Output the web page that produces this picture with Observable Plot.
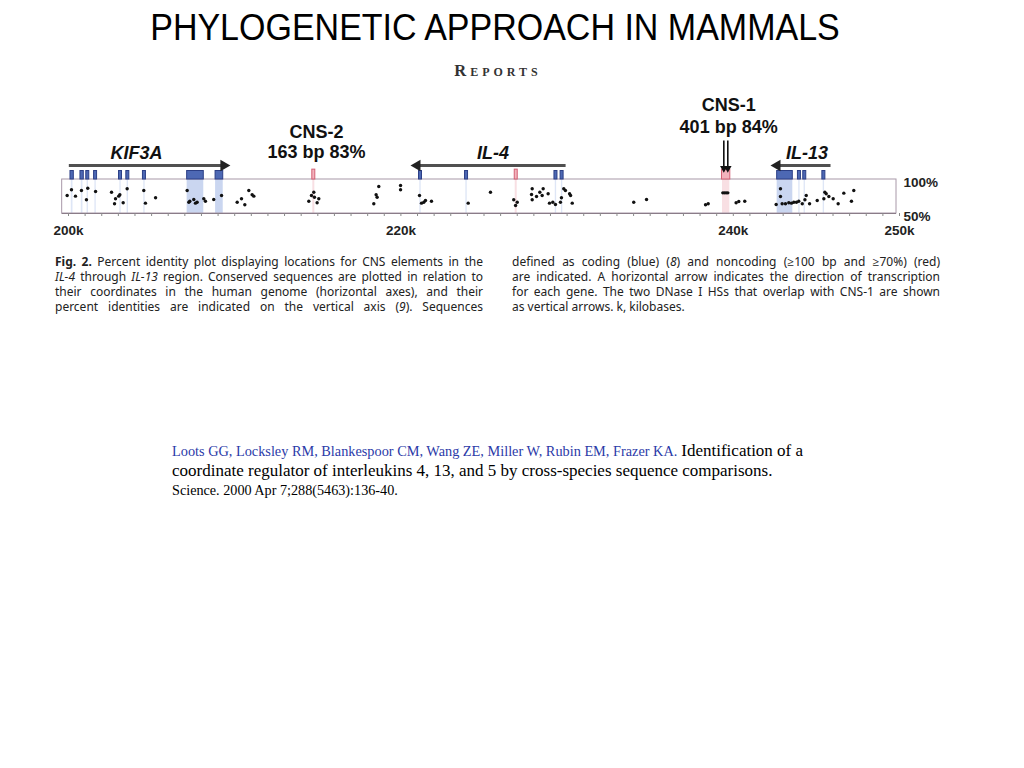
<!DOCTYPE html>
<html>
<head>
<meta charset="utf-8">
<script src="https://cdn.jsdelivr.net/npm/d3@7"></script>
<script src="https://cdn.jsdelivr.net/npm/@observablehq/plot@0.6"></script>
<style>
  html, body { margin: 0; padding: 0; background: #fff; }
  #page { position: relative; width: 1024px; height: 768px; overflow: hidden; background: #fff; }
  .abs { position: absolute; white-space: nowrap; }
  #title { left: 0; width: 990px; top: 8px; text-align: center; font-family: "Liberation Sans", Arial, sans-serif; font-size: 34px; line-height: 40px; color: #000; transform: scaleY(1.06); transform-origin: 50% 80%; }
  #reports { left: 398px; width: 200px; top: 62px; text-align: center; font-family: "Liberation Serif", serif; font-weight: bold; font-variant: small-caps; font-size: 16.5px; letter-spacing: 4px; line-height: 18px; color: #333; }
  #chart { position: absolute; left: 40px; top: 55px; }
  .cap { position: absolute; width: 428px; font-family: "Noto Sans", "Open Sans", sans-serif; font-size: 12px; line-height: 15px; color: #222; }
  .cap div { text-align: justify; text-align-last: justify; white-space: nowrap; }
  .cap div.last { text-align-last: left; }
  #citation { position: absolute; left: 172px; top: 441px; font-family: "Liberation Serif", "Times New Roman", serif; color: #000; }
  #citation .l1 { height: 20px; line-height: 20px; white-space: nowrap; }
  #citation .auth { color: #2b3aa8; font-size: 14.3px; }
  #citation .big { font-size: 17px; }
  #citation .l3 { font-size: 14.2px; line-height: 18px; }
</style>
</head>
<body>
<div id="page">
  <div id="title" class="abs">PHYLOGENETIC APPROACH IN MAMMALS</div>
  <div id="reports" class="abs">Reports</div>
  <div id="chart"></div>
  <div class="cap" style="left:55px; top:254px;">
    <div><b>Fig. 2.</b> Percent identity plot displaying locations for CNS elements in the</div>
    <div><i>IL-4</i> through <i>IL-13</i> region. Conserved sequences are plotted in relation to</div>
    <div>their coordinates in the human genome (horizontal axes), and their</div>
    <div>percent identities are indicated on the vertical axis (<i>9</i>). Sequences</div>
  </div>
  <div class="cap" style="left:512px; top:254px;">
    <div>defined as coding (blue) (<i>8</i>) and noncoding (≥100 bp and ≥70%) (red)</div>
    <div>are indicated. A horizontal arrow indicates the direction of transcription</div>
    <div>for each gene. The two DNase I HSs that overlap with CNS-1 are shown</div>
    <div class="last">as vertical arrows. k, kilobases.</div>
  </div>
  <div id="citation">
    <div class="l1"><span class="auth">Loots GG, Locksley RM, Blankespoor CM, Wang ZE, Miller W, Rubin EM, Frazer KA.</span> <span class="big">Identification of a</span></div>
    <div class="l1 big">coordinate regulator of interleukins 4, 13, and 5 by cross-species sequence comparisons.</div>
    <div class="l3">Science. 2000 Apr 7;288(5463):136-40.</div>
  </div>
</div>
<script>
// ---- Data (kb coordinates in the human genome, percent identity) ----
const xTicksLabeled = [200, 220, 240, 250];
const yTicks = [50, 100];

// coding exons (blue): [start kb, end kb]
const codingExons = [
  [200.30, 200.50], [200.90, 201.10], [201.25, 201.43], [201.72, 201.90],
  [203.22, 203.40], [203.66, 203.84], [204.66, 204.84], [207.32, 208.32], [209.03, 209.49],
  [221.27, 221.45], [224.04, 224.22], [229.42, 229.60], [229.79, 229.97],
  [242.82, 243.76], [244.07, 244.25], [244.39, 244.57], [245.54, 245.72]
];
// noncoding conserved sequences (red): [start kb, end kb]
const noncodingCNS = [
  [214.85, 215.03], [227.03, 227.21], [239.50, 240.00]
];
// genes with transcription direction: from -> to (kb)
const genes = ["KIF3A", "IL-4", "IL-13"];
const geneFrom = [200.2, 230.09, 246.03];
const geneTo = [209.52, 221.16, 242.82];
const geneLabelKb = [204.27, 225.72, 244.62];
// CNS annotations
const cnsNames = ["CNS-2", "CNS-1"];
const cnsDetail = ["163 bp 83%", "401 bp 84%"];
const cnsLabelKb = [215.1, 239.9];
const cnsLevel = [[169, 139.7], [208.8, 176.5]]; // text rows above the 100% line (same percent scale)
// DNase I hypersensitive sites overlapping CNS-1
const hsKb = [239.61, 239.85];

// percent identity points: [kb, %]
const pipPoints = [
  [200.10, 76.5], [200.36, 84.9], [200.60, 75.5], [200.96, 83.8], [201.26, 70.2], [201.34, 87.2],
  [201.81, 82.4], [202.77, 81.3], [202.95, 64.3], [203.01, 71.6], [203.27, 77.5], [203.20, 75.5],
  [203.47, 65.7], [203.71, 86.3], [204.71, 83.8], [204.81, 65.2], [205.42, 73.1],
  [207.32, 83.8], [207.42, 66.6], [207.48, 68.1], [207.72, 70.6], [207.82, 65.2], [207.92, 66.6],
  [208.32, 71.6], [208.42, 68.1], [208.92, 70.6], [209.39, 76.5],
  [210.33, 66.6], [210.59, 71.6], [210.79, 62.8], [211.03, 83.8], [211.23, 77.5], [211.33, 75.5],
  [214.64, 68.1], [214.80, 76.5], [214.94, 81.3], [214.98, 74.0], [215.14, 65.7], [215.24, 71.6],
  [218.55, 64.3], [218.69, 77.5], [218.75, 74.0], [218.85, 89.7], [220.16, 91.2], [220.16, 84.9],
  [221.30, 76.5], [221.42, 65.2], [221.56, 66.6], [221.66, 69.1], [222.02, 68.1],
  [224.23, 65.2], [225.57, 81.3], [226.97, 70.2], [227.08, 61.8], [227.18, 66.6],
  [228.04, 78.0], [228.08, 86.3], [228.08, 70.2], [228.34, 75.0], [228.54, 81.3], [228.68, 76.5],
  [228.74, 86.3], [229.04, 79.0], [229.12, 65.2], [229.32, 66.6], [229.48, 63.3], [229.78, 66.6],
  [229.84, 73.1], [229.98, 86.3], [230.08, 83.8], [230.33, 79.0], [230.39, 76.5], [230.49, 65.2],
  [234.19, 66.6], [234.96, 70.6], [238.51, 62.8], [238.67, 64.3],
  [239.55, 80.4], [239.65, 80.4], [239.75, 80.4], [239.85, 80.4],
  [240.35, 65.7], [240.51, 67.7], [240.87, 68.1],
  [242.76, 63.3], [243.02, 86.3], [243.02, 75.0], [243.12, 64.3], [243.32, 64.3], [243.52, 65.7],
  [243.68, 65.2], [243.82, 66.6], [243.98, 66.6], [244.12, 68.1], [244.33, 64.3], [244.49, 70.2],
  [244.57, 76.5], [244.77, 64.3], [245.23, 69.1], [245.63, 71.6], [245.69, 81.3], [245.77, 79.0],
  [245.93, 75.0], [246.19, 71.6], [246.49, 64.3], [246.83, 79.9], [247.29, 68.1], [247.43, 83.8]
];

// track levels above the plot (expressed on the same percent scale)
const exonTrack = [100, 112.5];
const arrowLevel = 120.6;
const geneLabelLevel = 138.5;
const hsTop = 157.5, hsBottom = 113.5;

const geneRows = genes.map((g, i) => ({gene: g, from: geneFrom[i], to: geneTo[i], label: geneLabelKb[i]}));
const cnsRows = cnsNames.map((n, i) => ({name: n, detail: cnsDetail[i], kb: cnsLabelKb[i], y1: cnsLevel[i][0], y2: cnsLevel[i][1]}));
const narrowExons = codingExons.filter(d => d[1] - d[0] < 0.4);
const wideExons = codingExons.filter(d => d[1] - d[0] >= 0.4);

const fig = Plot.plot({
  width: 920,
  height: 190,
  marginLeft: 25,
  marginRight: 64,
  marginTop: 124,
  marginBottom: 32,
  style: {fontFamily: "'Liberation Sans', Arial, sans-serif", fontWeight: "bold", background: "transparent", overflow: "visible", color: "#222"},
  x: {domain: [200, 250]},
  y: {domain: [50, 100]},
  marks: [
    // shaded columns below coding exons and noncoding CNS
    Plot.rect(wideExons, {x1: d => d[0], x2: d => d[1], y1: 50, y2: 100, fill: "#c4d2ee", fillOpacity: 0.9}),
    Plot.rect(narrowExons, {x1: d => d[0] + 0.05, x2: d => d[1] - 0.05, y1: 50, y2: 100, fill: "#d6e0f4", fillOpacity: 0.8}),
    Plot.rect(noncodingCNS, {x1: d => d[0] + 0.03, x2: d => d[1] - 0.03, y1: 50, y2: 100, fill: "#f7dbe0", fillOpacity: 0.9}),
    // frame of the percent identity plot
    Plot.rect([0], {x1: 199.8, x2: 250, y1: 50, y2: 100, fill: "none", stroke: "#a898a8", strokeWidth: 1}),
    Plot.ruleY([50], {x1: 199.8, x2: 250, stroke: "#8a7c88", strokeWidth: 1}),
    // exon markers
    Plot.rect(codingExons, {x1: d => d[0], x2: d => d[1], y1: exonTrack[0], y2: exonTrack[1], fill: "#4d68b4", stroke: "#2c3f86", strokeWidth: 1}),
    Plot.rect(noncodingCNS, {x1: d => d[0], x2: d => d[1], y1: exonTrack[0], y2: exonTrack[1] + 2, fill: "#f2b3bd", stroke: "#d36075", strokeWidth: 1}),
    // transcription direction arrows
    Plot.link(geneRows, {x1: "from", x2: "to", y1: arrowLevel, y2: arrowLevel, stroke: "#505050", strokeWidth: 3}),
    Plot.dot(geneRows, {x: "to", y: arrowLevel, symbol: "triangle2", r: 5.5, fill: "#222", rotate: d => d.to > d.from ? 90 : -90}),
    Plot.text(geneRows, {x: "label", y: geneLabelLevel, text: "gene", fontSize: 18, fontStyle: "italic", fontWeight: "bold", fill: "#111"}),
    // CNS labels
    Plot.text(cnsRows, {x: "kb", y: "y1", text: "name", fontSize: 18, fontWeight: "bold", fill: "#111"}),
    Plot.text(cnsRows, {x: "kb", y: "y2", text: "detail", fontSize: 18, fontWeight: "bold", fill: "#111"}),
    // DNase I HS vertical arrows
    Plot.link(hsKb, {x1: d => d, x2: d => d, y1: hsTop, y2: hsBottom + 6, stroke: "#111", strokeWidth: 1.6}),
    Plot.dot(hsKb, {x: d => d, y: hsBottom + 3, symbol: "triangle2", r: 3.6, fill: "#111", rotate: 180}),
    // percent identity points
    Plot.dot(pipPoints, {x: d => d[0], y: d => d[1], r: 1.7, fill: "#111", stroke: "none"}),
    // axes
    Plot.axisX({ticks: d3.range(200, 251), tickSize: 3, tickPadding: 9, stroke: "#8a8a8a",
      tickFormat: d => xTicksLabeled.includes(d) ? d + "k" : "", fontSize: 13.5, fontWeight: "bold", dx: 3, fill: "#222"}),
    Plot.axisY({anchor: "right", ticks: yTicks, tickSize: 0, tickPadding: 7, tickFormat: d => d + "%", fontSize: 13.5, fontWeight: "bold", textAnchor: "start", dy: 3, fill: "#222"})
  ]
});
document.getElementById("chart").appendChild(fig);
</script>
</body>
</html>
